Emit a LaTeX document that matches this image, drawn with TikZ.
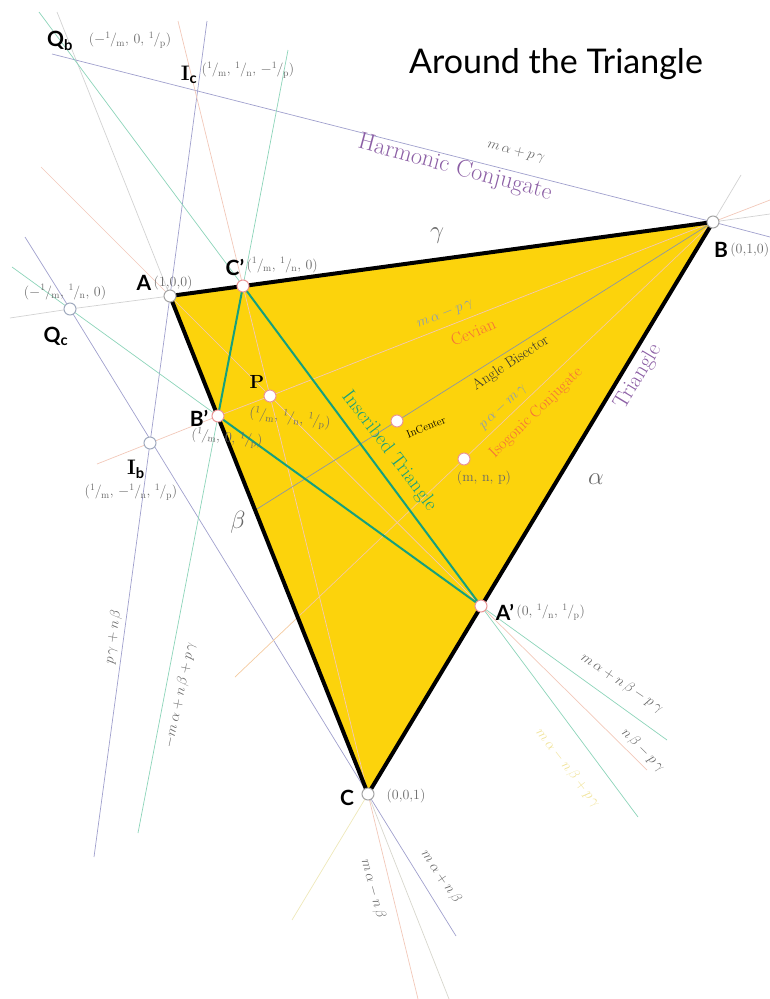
\documentclass[tikz,border=0pt]{standalone}
\usepackage{fontspec}
\setsansfont{Lato}
\usetikzlibrary{positioning}

\definecolor{gold}{RGB}{252,211,12}
\definecolor{teal2}{RGB}{22,160,125}
\definecolor{purp}{RGB}{140,95,165}
\definecolor{labgray}{RGB}{105,105,105}
\definecolor{steel}{RGB}{135,155,185}
\definecolor{orng}{RGB}{245,110,60}
\definecolor{lav}{RGB}{160,160,205}
\definecolor{mint}{RGB}{140,212,185}
\definecolor{peach}{RGB}{242,200,185}
\definecolor{lgray}{RGB}{210,210,210}
\definecolor{pyel}{RGB}{238,232,185}
\definecolor{yeltxt}{RGB}{240,226,150}
\definecolor{bisec}{RGB}{140,150,165}
\definecolor{dotgray}{RGB}{165,165,165}
\definecolor{dotpink}{RGB}{235,150,150}
\definecolor{dotblue}{RGB}{160,170,190}

\newcommand{\fr}[1]{\textsuperscript{1}\kern-.04em/\kern-.04em\textsubscript{#1}}

\begin{document}
\begin{tikzpicture}[x=1pt, y=-1pt,
    spot/.style={circle, draw=#1, fill=white, line width=1pt, inner sep=0pt, minimum size=12pt},
    spot/.default=dotgray,
    vtx/.style={font=\sffamily\bfseries\fontsize{21}{21}\selectfont, inner sep=1pt},
    crd/.style={font=\fontsize{14}{15}\selectfont, text=labgray, inner sep=1pt},
    eqn/.style={font=\fontsize{15}{16}\selectfont, text=labgray},
    sidelbl/.style={font=\fontsize{23}{23}\selectfont, text=labgray},
    guide/.style={line width=0.7pt}]
\clip (0,0) rectangle (770,999);

% --- Key points ---
\coordinate (A) at (170,296);
\coordinate (B) at (713,222);
\coordinate (C) at (368,794);
\coordinate (Cp) at (243,286);
\coordinate (Bp) at (218,416);
\coordinate (Ap) at (481,606);
\coordinate (P) at (270,396);
\coordinate (I) at (397,421);
\coordinate (K) at (464,459);
\coordinate (Qc) at (70,309);
\coordinate (Ib) at (150,443);

% --- Free ends of the lines ---
\coordinate (ab1) at (10,318);  \coordinate (ab2) at (770,214);
\coordinate (ac1) at (57,12);   \coordinate (ac2) at (449,999);
\coordinate (bc1) at (741,175); \coordinate (bc2) at (292,920);
\coordinate (h1) at (52,54);    \coordinate (h2) at (770,237);
\coordinate (s1) at (207,21);   \coordinate (s2) at (94,857);
\coordinate (c1) at (178,21);   \coordinate (c2) at (418,999);
\coordinate (g1) at (288,50);   \coordinate (g2) at (138,833);
\coordinate (g3) at (39,12);    \coordinate (g4) at (638,817);
\coordinate (g5) at (12,267);   \coordinate (g6) at (667,740);
\coordinate (t1) at (25,237);   \coordinate (t2) at (456,936);
\coordinate (a1) at (41,167);   \coordinate (a2) at (647,770);
\coordinate (b1) at (97,464);   \coordinate (b2) at (770,200);
\coordinate (bi) at (257,509);
\coordinate (iso) at (235,677);

% --- Triangle fill ---
\fill[gold] (A) -- (B) -- (C) -- cycle;

% --- Extended sides ---
\draw[guide, lgray] (ab1) -- (Qc) -- (A) -- (B) -- (ab2);
\draw[guide, lgray] (ac1) -- (A);
\draw[guide, lgray!80!pyel] (C) -- (ac2);
\draw[guide, lgray] (B) -- (bc1);
\draw[guide, pyel] (C) -- (bc2);

% --- Lines through the vertices ---
\draw[guide, lav] (h1) -- (B) -- (h2);
\draw[guide, lav] (s1) -- (A) -- (Ib) -- (s2);
\draw[guide, lav] (t1) -- (Qc) -- (C) -- (t2);
\draw[guide, peach] (c1) -- (Cp) -- (P) -- (C) -- (c2);
\draw[guide, peach] (a1) -- (A) -- (P) -- (Ap) -- (a2);
\draw[guide, peach] (b1) -- (Ib) -- (Bp) -- (P) -- (B) -- (b2);
\draw[guide, peach!85!gold] (B) -- (K) -- (iso);
\draw[guide, bisec] (B) -- (I) -- (bi);

% --- Sides of the inscribed triangle, extended ---
\draw[guide, mint] (g1) -- (Cp) -- (Bp) -- (g2);
\draw[guide, mint] (g3) -- (Cp) -- (Ap) -- (g4);
\draw[guide, mint] (g5) -- (Qc) -- (Bp) -- (Ap) -- (g6);

% --- Triangle and inscribed triangle ---
\draw[line width=4pt, line join=miter] (A) -- (B) -- (C) -- cycle;
\draw[teal2, line width=2pt] (Ap) -- (Bp) -- (Cp) -- cycle;

% --- Points ---
\node[spot] (dA) at (A) {};
\node[spot] (dB) at (B) {};
\node[spot] (dC) at (C) {};
\node[spot=dotpink] (dAp) at (Ap) {};
\node[spot=dotpink] (dBp) at (Bp) {};
\node[spot=dotpink] (dCp) at (Cp) {};
\node[spot=dotpink] (dP) at (P) {};
\node[spot=dotpink] (dI) at (I) {};
\node[spot=dotpink] (dK) at (K) {};
\node[spot=dotblue] (dQc) at (Qc) {};
\node[spot=dotblue] (dIb) at (Ib) {};

% --- Title ---
\node[font=\sffamily\fontsize{34}{36}\selectfont] (title) at (556,64) {Around the Triangle};

% --- Vertex labels ---
\node[vtx] (lA) at (144,283) {A};
\node[crd, right=0pt of lA] (cA) {(1,0,0)};
\node[vtx] (lB) at (721,250) {B};
\node[crd, right=0pt of lB] (cB) {(0,1,0)};
\node[vtx] (lC) at (347,798) {C};
\node[crd] (cC) at (406,796) {(0,0,1)};
\node[vtx] (lCp) at (235,267) {C'};
\node[crd, right=0pt of lCp, yshift=2pt] (cCp) {(\fr{m}, \fr{n}, 0)};
\node[vtx] (lBp) at (199,418) {B'};
\node[crd, rotate=-6] (cBp) at (227,438) {(\fr{m}, 0, \fr{p})};
\node[vtx] (lAp) at (505,612) {A'};
\node[crd, right=0pt of lAp] (cAp) {(0, \fr{n}, \fr{p})};
\node[font=\bfseries\fontsize{19}{19}\selectfont] (lP) at (257,382) {P};
\node[crd, rotate=-7] (cP) at (290,418) {(\fr{m}, \fr{n}, \fr{p})};
\node[font=\fontsize{11}{12}\selectfont, rotate=22] (lI) at (426,427) {InCenter};
\node[crd] (cK) at (484,478) {(m, n, p)};

% --- Outer points ---
\node[vtx] (lQb) at (60,41) {Q\textsubscript{b}};
\node[crd] (cQb) at (130,40) {(\(-\)\fr{m}, 0, \fr{p})};
\node[font=\bfseries\fontsize{21}{21}\selectfont] (lIc) at (189,75) {I\textsubscript{\sffamily c}};
\node[crd] (cIc) at (248,70) {(\fr{m}, \fr{n}, \(-\)\fr{p})};
\node[crd] (cQc) at (65,292) {(\(-\)\fr{m}, \fr{n}, 0)};
\node[vtx] (lQc) at (56,336) {Q\textsubscript{c}};
\node[font=\bfseries\fontsize{21}{21}\selectfont] (lIb) at (136,469) {I\textsubscript{\sffamily b}};
\node[crd] (cIb) at (131,492) {(\fr{m}, \(-\)\fr{n}, \fr{p})};

% --- Sides ---
\node[sidelbl] (gam) at (437,236) {$\gamma$};
\node[sidelbl] (alp) at (596,479) {$\alpha$};
\node[sidelbl] (bet) at (238,522) {$\beta$};
\node[text=purp, font=\fontsize{22}{22}\selectfont, rotate=59] (tri) at (638,377) {Triangle};
\node[text=teal2, font=\fontsize{20}{20}\selectfont, rotate=-53] (ins) at (389,451) {Inscribed Triangle};

% --- Line names ---
\node[text=purp, font=\fontsize{24}{24}\selectfont, rotate=-15] (harm) at (455,168) {Harmonic Conjugate};
\node[eqn, rotate=-14] (eh) at (516,152) {$m\,\alpha+p\,\gamma$};
\node[font=\fontsize{15}{16}\selectfont, text=black!80, rotate=33] (bis) at (511,363) {Angle Bisector};
\node[eqn, text=steel, rotate=22] (ec) at (445,314) {$m\,\alpha-p\,\gamma$};
\node[text=orng, font=\fontsize{17}{17}\selectfont, rotate=24] (cev) at (473,332) {Cevian};
\node[eqn, text=steel, rotate=43] (ei) at (503,407) {$p\,\alpha-m\,\gamma$};
\node[text=orng, font=\fontsize{16}{16}\selectfont, rotate=44] (isog) at (536,413) {Isogonic Conjugate};
\node[eqn, rotate=-34] (e1) at (622,683) {$m\,\alpha+n\,\beta-p\,\gamma$};
\node[eqn, rotate=-45] (e2) at (643,750) {$n\,\beta-p\,\gamma$};
\node[eqn, text=yeltxt, rotate=-52] (e3) at (568,768) {$m\,\alpha-n\,\beta+p\,\gamma$};
\node[eqn, rotate=-75] (e4) at (373,889) {$m\,\alpha-n\,\beta$};
\node[eqn, rotate=-56] (e5) at (441,877) {$m\,\alpha+n\,\beta$};
\node[eqn, rotate=82] (e6) at (113,637) {$p\,\gamma+n\,\beta$};
\node[eqn, rotate=78] (e7) at (180,695) {$-m\,\alpha+n\,\beta+p\,\gamma$};
\end{tikzpicture}
\end{document}
